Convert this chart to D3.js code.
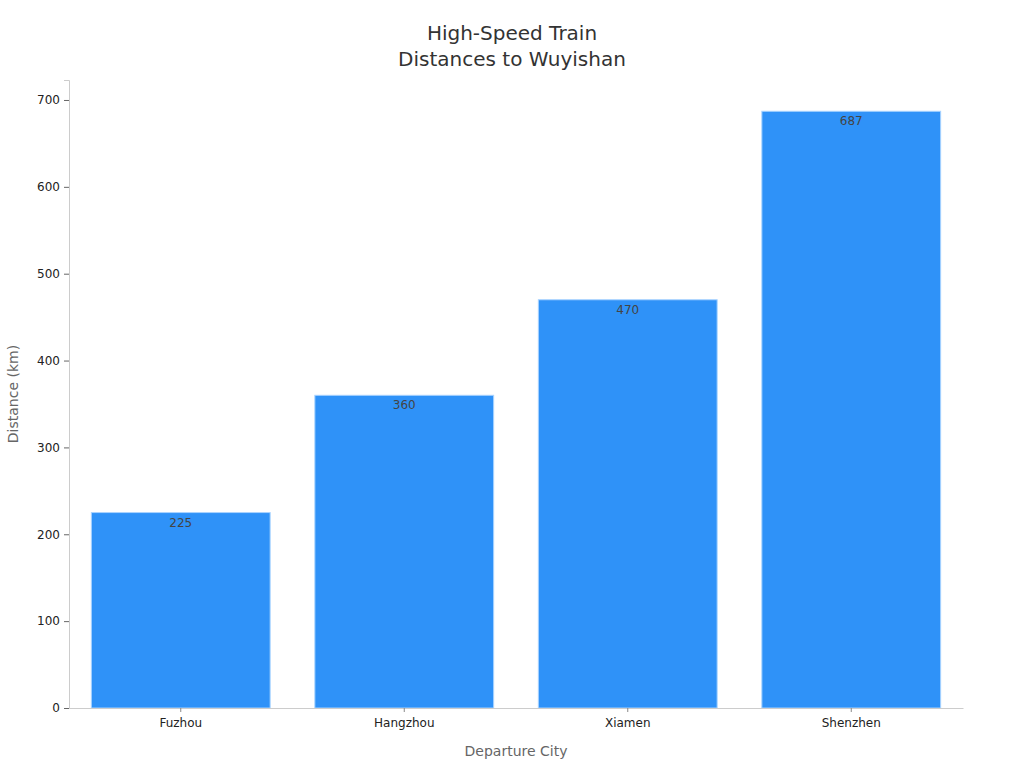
<!DOCTYPE html>
<html>
<head>
<meta charset="utf-8">
<script src="https://cdn.jsdelivr.net/npm/d3@7"></script>
<style>
  body { margin: 0; background: #fff; }
  text { font-family: "DejaVu Sans", sans-serif; }
</style>
</head>
<body>
<svg width="1024" height="768"></svg>
<script>
const cities = ['Fuzhou', 'Hangzhou', 'Xiamen', 'Shenzhen']
const distances = [225, 360, 470, 687]
const yTicks = [0, 100, 200, 300, 400, 500, 600, 700]

const svg = d3.select('svg')
const width = +svg.attr('width')
const height = +svg.attr('height')
const margin = {top: 80, right: 61, bottom: 60, left: 69}
const innerW = width - margin.left - margin.right
const innerH = height - margin.top - margin.bottom

const g = svg.append('g')
    .attr('transform', `translate(${margin.left}, ${margin.top})`)

const x = d3.scaleBand()
    .domain(cities)
    .range([0, innerW])
    .paddingInner(0.2)
    .paddingOuter(0.1)

const y = d3.scaleLinear()
    .domain([0, 723])
    .range([innerH, 0])

// y axis
const yAxis = g.append('g')
    .call(d3.axisLeft(y).tickValues(yTicks).tickSize(5).tickPadding(4))
yAxis.select('.domain').attr('stroke', '#ccc')
yAxis.selectAll('.tick line').attr('stroke', '#666')
yAxis.selectAll('.tick text').attr('fill', '#222').attr('font-size', 12)
    .attr('font-family', '"DejaVu Sans", sans-serif')

// bars
g.selectAll('rect.bar')
    .data(distances)
    .join('rect')
    .attr('class', 'bar')
    .attr('x', (d, i) => x(cities[i]))
    .attr('y', d => y(d))
    .attr('width', x.bandwidth())
    .attr('height', d => innerH - y(d))
    .attr('fill', '#2f92f8')
    .attr('stroke', '#a8d3ff')
    .attr('stroke-width', 1)

g.selectAll('text.val')
    .data(distances)
    .join('text')
    .attr('class', 'val')
    .attr('x', (d, i) => x(cities[i]) + x.bandwidth() / 2)
    .attr('y', d => y(d) + 14)
    .attr('text-anchor', 'middle')
    .attr('font-size', 12)
    .attr('fill', '#444')
    .text(d => d)

// x axis
const xAxis = g.append('g')
    .attr('transform', `translate(0, ${innerH})`)
    .call(d3.axisBottom(x).tickSize(4).tickPadding(6).tickSizeOuter(0))
xAxis.select('.domain').attr('stroke', '#ccc')
xAxis.selectAll('.tick line').attr('stroke', '#888')
xAxis.selectAll('.tick text').attr('fill', '#222').attr('font-size', 12)
    .attr('font-family', '"DejaVu Sans", sans-serif')

// axis titles
svg.append('text')
    .attr('x', margin.left + innerW / 2)
    .attr('y', 756)
    .attr('text-anchor', 'middle')
    .attr('font-size', 14)
    .attr('fill', '#666')
    .text('Departure City')

svg.append('text')
    .attr('transform', `translate(18, ${margin.top + innerH / 2}) rotate(-90)`)
    .attr('text-anchor', 'middle')
    .attr('font-size', 14)
    .attr('fill', '#666')
    .text('Distance (km)')

// title
const title = svg.append('text')
    .attr('x', width / 2)
    .attr('text-anchor', 'middle')
    .attr('font-size', 20)
    .attr('fill', '#333')
title.append('tspan').attr('x', width / 2).attr('y', 40).text('High-Speed Train')
title.append('tspan').attr('x', width / 2).attr('y', 66).text('Distances to Wuyishan')
</script>
</body>
</html>
